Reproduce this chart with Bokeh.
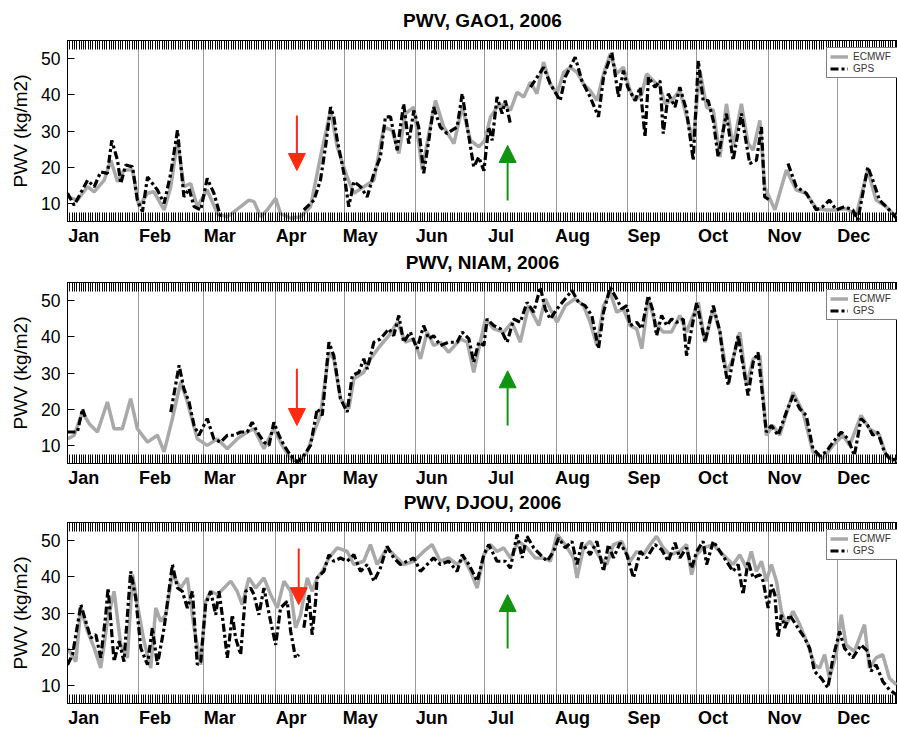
from bokeh.plotting import figure
from bokeh.layouts import column
from bokeh.models import (Range1d, LinearAxis, FixedTicker, CustomJSTickFormatter,
                          AllLabels, Arrow, NormalHead)
from bokeh.embed import file_html
from bokeh.resources import INLINE

nan = float("nan")

month_names = ["Jan", "Feb", "Mar", "Apr", "May", "Jun",
               "Jul", "Aug", "Sep", "Oct", "Nov", "Dec"]
month_starts = [0, 31, 59, 90, 120, 151, 181, 212, 243, 273, 304, 334]
label_days = [d + 7 for d in month_starts]
y_ticks = [10, 20, 30, 40, 50]

# ---------------- GAO1 ----------------
gao_gps_day = [0, 2.9, 8.7, 11.6, 14.4, 17.3, 19.2, 21.7, 23.1, 25.3,
               28.2, 30.3, 32.5, 34.7, 39, 41.9, 44.8, 47.7, 50.5, 52.7,
               54.9, 57.8, 60.6, 63.5, 66.4, 84, 102.5, 106.9, 109.7, 111.9,
               114.1, 115.5, 117, 119.9, 122, 124.2, 127.1, 130, 132.9, 135.7,
               137.9, 140.1, 143, 145.8, 148, 150.2, 152.3, 154.5, 156.7, 158.8,
               161.7, 164.6, 169, 171.2, 173.4, 176.2, 178.4, 180.6, 182.7, 184.2,
               186.3, 188.5, 189.9, 192.1, 196, 200.8, 206.5, 209.4, 213.7, 215.9,
               220.2, 223.1, 226.7, 230.3, 232.5, 236.1, 239, 241.1, 243, 246.2,
               248.4, 250.5, 252, 254.8, 257, 258.4, 260.6, 263.5, 265.6, 268.5,
               271.4, 273.6, 275.7, 277.9, 280.1, 282.2, 285.8, 288.7, 292.3, 295.9,
               298.8, 301, 302.4, 304.6, 308, 312.5, 316.1, 320.4, 324.8, 327.6,
               330.5, 333.4, 337, 340.6, 342.8, 347.1, 349.3, 352.2, 355.1, 357.9,
               359.5]
gao_gps = [12.8, 9.5, 16.4, 14.6, 18.7, 18.3, 27.4, 21.9, 15.5, 20.6,
           20.1, 10.9, 7.7, 17.3, 13.7, 10, 18.3, 30.2, 11.8, 14.1,
           9.1, 8.2, 16.9, 12.8, 6.3, nan, 8.2, 10.9, 16.4, 25.6,
           36.6, 33.9, 27.4, 18.3, 9.1, 16, 14.6, 11.8, 18.3, 22.8,
           33.9, 33.9, 24.7, 37.5, 26.5, 35.7, 31.1, 18.3, 27.4, 36.6,
           31.1, 29.3, 31.1, 40.3, 31.1, 20.1, 22.8, 19, 31.1, 27.4,
           39.4, 34.8, 38.4, 32, nan, 42.1, 47.6, 43, 38.4, 44.9,
           50.4, 43.9, 39.4, 33.9, 44.9, 51.7, 39.4, 46.7, 42.1, 38.4,
           42.1, 28.3, 44.9, 42.1, 43.9, 29.3, 40.3, 36.6, 42.1, 35.7,
           21.9, 49.4, 38.4, 38.4, 32.9, 22.8, 34.8, 21.9, 34.8, 21,
           21.9, 31.1, 11.8, 10.9, nan, 21, 14.6, 12.8, 8.2, 9.1,
           10.9, 8.2, 9.1, 8.2, 5.4, 20.1, 16.4, 10.9, 9.1, 7.2,
           5.9]
gao_ecm_day = [0, 4.3, 8.7, 11.6, 15.9, 18.8, 21.7, 24.5, 28.2, 31,
               34.7, 37.5, 41.9, 44.8, 47.7, 50.5, 53.4, 56.3, 60.6, 65,
               69.3, 75.1, 78.7, 80.9, 83.8, 86.6, 90.3, 92.4, 96.8, 101.1,
               105.4, 109.7, 114.1, 117, 121.3, 124.2, 128.5, 132.9, 137.2, 140.8,
               143.7, 146.6, 150.2, 153.9, 156.7, 159.6, 163.2, 167.6, 171.2, 174.8,
               178.4, 181, 183.5, 186.3, 189.9, 192.1, 195, 197.9, 200.8, 203.6,
               206.5, 209.4, 212.3, 215.2, 218.1, 221, 223.8, 226.7, 229.6, 232.5,
               235.4, 238.2, 241.1, 244, 246.2, 249.1, 251.2, 254.1, 257, 259.2,
               262, 265.6, 268.5, 271.4, 274.3, 277.2, 280.1, 283, 285.8, 288.7,
               292.3, 295.2, 297.4, 300.3, 302.4, 306.8, 311.8, 316.1, 320.4, 324.8,
               329.1, 333.4, 337.7, 342.1, 347.1, 350.7, 355.1, 359.5]
gao_ecm = [11.8, 10.9, 14.6, 13.2, 16.4, 21.9, 16, 19.2, 19.2, 9.1,
           12.8, 13.2, 8.2, 14.6, 27.4, 14.6, 15.5, 9.1, 13.7, 7.2,
           6.3, 9.1, 10.9, 10.5, 6.3, 8.2, 11.4, 7.2, 5.9, 6.3,
           9.1, 22.8, 35.7, 25.6, 17.3, 12.8, 14.6, 16.4, 31.1, 30.2,
           23.8, 34.8, 36.6, 19.2, 29.3, 38.4, 31.1, 26.5, 36.6, 27.4,
           25.6, 27.4, 33.9, 36.6, 37.5, 35.7, 40.7, 39.4, 43.5, 40.3,
           49, 43, 40.3, 46.2, 47.6, 46.2, 43, 41.2, 38.4, 45.8,
           51.3, 45.8, 47.6, 41.2, 38.4, 40.3, 45.8, 43.9, 42.1, 37.5,
           38.4, 41.2, 33.9, 27.4, 46.7, 36.6, 35.7, 22.8, 37.5, 25.6,
           37.5, 26.5, 24.7, 32.9, 14.6, 8.2, 19.2, 13.7, 12.8, 8.6,
           8.2, 8.2, 8.6, 6.8, 19.2, 10.9, 9.1, 6.3]

# ---------------- NIAM ----------------
niam_gps_day = [0, 4.3, 6.5, 7.9, 25, 44.8, 48.4, 50.5, 52.7, 54.9,
                57, 60.6, 63.5, 66.4, 69.3, 72.2, 75.1, 78, 80.1, 82.3,
                85.2, 87.4, 89.5, 91.7, 93.9, 96.8, 99.6, 102.5, 105.4, 108.3,
                110.5, 113.4, 115.5, 118.4, 121.3, 123.5, 126.4, 128.5, 130, 132.9,
                135.7, 139.4, 141.5, 143.7, 145.8, 148.7, 151.6, 154.5, 156.7, 158.8,
                161.7, 165.3, 169, 171.2, 174.1, 176.2, 178.4, 180.6, 182, 184.9,
                187.8, 190.7, 193.5, 196.4, 199.3, 202.2, 205.1, 207.2, 209.4, 212.3,
                215.9, 218.8, 221.7, 224.5, 227.4, 230.3, 232.5, 235.4, 238.2, 240.4,
                242.6, 244, 246.9, 249.1, 251.9, 254.1, 255.5, 257.7, 259.9, 262,
                264.2, 267.1, 268.5, 270.7, 272.9, 275, 276.5, 280.1, 283, 284.4,
                286.6, 288.7, 290.9, 293, 295.2, 297.4, 299.5, 301, 303.1, 305.3,
                308.2, 311.8, 314.7, 317.6, 320.4, 323.3, 326.2, 329.1, 332, 335.6,
                338.5, 341.3, 344.2, 347.1, 349.3, 351.4, 354.3, 357.2, 359.5]
niam_gps = [13.7, 13.7, 20.1, 17.4, nan, 19.2, 32.1, 25.6, 22, 15.5,
            12.8, 17.4, 11.8, 10.9, 12.8, 12.8, 13.7, 13.7, 16.4, 13.7,
            10.9, 10, 16.4, 12.8, 10, 7.2, 5.4, 7.2, 10, 20.1,
            18.3, 38.5, 34.8, 22.9, 19.2, 29.3, 30.2, 33.9, 31.1, 38.5,
            39.4, 42.2, 40.3, 45.9, 38.5, 41.3, 36.7, 43.1, 39.4, 40.3,
            37.6, 38.5, 38.5, 41.3, 39.4, 33, 38.5, 37.6, 44.9, 43.1,
            42.2, 38.5, 44.9, 44, 49.5, 46.8, 53.7, 47.7, 44.9, 47.7,
            50.5, 52.8, 49.5, 48.6, 45.9, 36.7, 46.8, 53.7, 50.5, 47.7,
            48.6, 43.1, 44, 42.2, 51.4, 46.8, 40.3, 45.9, 43.1, 44.9,
            44, 44.9, 34.8, 42.2, 49.5, 43.1, 38.5, 48.6, 41.3, 33.9,
            26.6, 33.9, 40.3, 32.1, 23.8, 33, 35.7, 26.6, 13.7, 15.5,
            12.8, 19.2, 23.8, 20.1, 18.3, 9.1, 7.2, 8.2, 10.9, 13.7,
            11.8, 7.2, 17.4, 15.5, 12.8, 13.7, 8.2, 5.9, 6.3]
niam_ecm_day = [0, 2.9, 6.5, 9.4, 13, 17.3, 20.2, 23.8, 27.4, 30.3,
                34.7, 39, 41.9, 45.5, 49.1, 52, 56.3, 60.6, 65, 69.3,
                73.6, 78, 80.9, 85.2, 89.5, 93.1, 96.8, 100.4, 104, 106.9,
                109.7, 113.4, 115.5, 118.4, 122, 124.2, 128.5, 131.4, 135.7, 139.4,
                143, 146.6, 150.2, 153.1, 156, 158.8, 161.7, 165.3, 170.5, 173.4,
                176.2, 178.4, 181.3, 184.9, 189.2, 192.8, 196.4, 200, 204.4, 207.2,
                212.3, 215.9, 220.2, 223.8, 226.7, 229.6, 232.5, 235.4, 238.2, 241.1,
                244, 246.9, 249.1, 251.9, 254.8, 258.4, 262, 265.6, 268.5, 270.7,
                273.6, 276.5, 280.1, 283, 285.8, 288.7, 291.6, 294.5, 297.4, 300.3,
                303.1, 306, 308.9, 314.7, 319, 323.3, 327.6, 332, 336.3, 339.2,
                344.2, 347.8, 352.2, 355.1, 359.5]
niam_ecm = [11.8, 12.8, 19.2, 16, 13.7, 22, 14.6, 14.6, 22.9, 14.6,
            10.9, 12.8, 8.2, 17.4, 27.5, 22, 11.8, 10, 11.8, 9.1,
            11.8, 13.7, 14.6, 9.1, 14.6, 10, 6.3, 5.4, 8.2, 13.7,
            18.3, 35.7, 33.9, 22.9, 20.1, 28.4, 30.2, 33.9, 37.6, 40.3,
            44, 38.5, 39.4, 33.9, 41.3, 37.6, 38.5, 35.7, 39.4, 38.5,
            30.2, 36.7, 44.9, 42.2, 41.3, 44, 38.5, 48.6, 43.1, 50.5,
            44, 48.6, 50.5, 48.6, 44, 37.6, 48.6, 52.3, 46.8, 47.7,
            43.1, 42.2, 36.7, 50.5, 44, 41.3, 41.3, 45.9, 41.3, 44.9,
            49.5, 38.5, 47.7, 41.3, 30.2, 33.9, 41.3, 26.6, 33.9, 34.8,
            12.8, 15.5, 12.8, 24.7, 19.2, 8.2, 6.3, 10, 12.8, 10,
            18.3, 14.6, 12.8, 7.2, 5.4]

# ---------------- DJOU ----------------
djou_gps_day = [0, 2.2, 5.8, 7.9, 10.1, 12.3, 14.4, 16.6, 17.6, 20.2,
                22.4, 24.5, 27.4, 29.6, 31.8, 34.7, 36.8, 39, 41.9, 45.5,
                47.7, 49.8, 52, 54.2, 56.3, 57.8, 59.9, 62.1, 64.3, 65.7,
                67.1, 69.3, 71.5, 72.9, 75.1, 77.3, 79.4, 80.9, 83, 85.2,
                88.1, 90.3, 92.4, 95.3, 96.8, 98.9, 100.4, 101.5, 102.5, 104.7,
                106.1, 107.6, 108.3, 111.2, 113.4, 115.5, 118.4, 121.3, 124.2, 127.1,
                130, 132.9, 135.7, 138.6, 141.5, 144.4, 147.3, 150.2, 153.1, 156,
                158.8, 161.7, 165.3, 169, 171.2, 174.1, 177.7, 180.6, 182.7, 186.3,
                189.9, 192.1, 195, 197.2, 199.3, 202.2, 205.1, 208, 210.8, 213,
                215.9, 218.8, 221, 223.1, 226.7, 229.6, 232.5, 234.6, 236.8, 239.7,
                242.6, 245.5, 248.4, 251.2, 254.8, 257.7, 260.6, 263.5, 265.6, 268.5,
                270.7, 272.9, 275.7, 277.2, 280.1, 283, 285.8, 288.7, 290.9, 293,
                295.2, 297.4, 300.3, 301.7, 303.9, 305.3, 306.8, 308.2, 309.6, 311.1,
                313.2, 316.8, 319.7, 321.9, 324, 326.9, 329.8, 332, 334.9, 337,
                340.6, 344.2, 347.1, 348.5, 350.7, 353.6, 356.5, 359.5]
djou_gps = [15.7, 18.5, 32.3, 27.7, 23.1, 24, 17.6, 29.5, 36.9, 16.6,
            22.2, 16.6, 41.5, 34.1, 20.3, 15.7, 25.9, 15.7, 25.9, 43.4,
            36.9, 36, 31.4, 36, 15.7, 16.6, 32.3, 36, 29.5, 36,
            29.5, 17.6, 29.5, 23.1, 18.5, 36, 36.9, 35.1, 29.5, 36.9,
            27.7, 21.2, 31.4, 33.2, 24.9, 17.6, 18.5, nan, 25.9, 35.1,
            24, 33.2, 39.7, 41.5, 46.1, 44.3, 45.2, 44.3, 46.1, 41.5,
            43.4, 38.8, 42.4, 48.4, 45.2, 43.4, 44.3, 45.2, 41.5, 43.4,
            45.2, 43.4, 44.3, 41.5, 46.1, 43.4, 38.8, 46.1, 48.9, 44.3,
            44.3, 42.4, 51.7, 45.2, 51.2, 48, 46.1, 44.3, 47, 50.7,
            48, 49.8, 43.4, 49.4, 46.1, 49.8, 41.5, 48.9, 45.2, 49.4,
            46.1, 39.7, 47, 45.2, 48.9, 47.5, 44.3, 49.4, 45.2, 48,
            42.4, 47, 49.8, 43.4, 49.8, 47, 44.3, 41.5, 43.4, 35.1,
            44.3, 39.7, 40.6, 38.8, 31.4, 37.8, 35.1, 23.1, 29.5, 25.9,
            29.5, 25.9, 23.1, 20.3, 13.9, 12, 9.3, 17.6, 24.9, 20.3,
            17.6, 21.2, 19.4, 13.9, 15.7, 11.1, 8.8, 7.4]
djou_ecm_day = [0, 3.6, 5.8, 8.7, 11.6, 14.4, 17.3, 20.2, 23.1, 26,
                28.2, 30.3, 33.2, 36.1, 38.3, 40.4, 42.6, 45.5, 49.1, 52,
                54.9, 57.8, 59.9, 62.1, 65, 67.9, 70.8, 73.6, 75.8, 78.7,
                81.6, 85.2, 88.1, 91, 93.9, 96.8, 98.9, 101.1, 104, 106.1,
                108.3, 110.5, 113.4, 117, 121.3, 124.2, 128.5, 131.4, 134.3, 138.6,
                143, 145.8, 150.2, 154.5, 158.1, 161.7, 165.3, 169, 171.9, 174.8,
                177.7, 180.6, 183.5, 186.3, 189.2, 192.1, 195.7, 199.3, 202.9, 206.5,
                209.4, 212.3, 215.9, 219.5, 221, 223.8, 226.7, 231, 233.9, 236.8,
                240.4, 244, 246.9, 249.8, 252.7, 255.5, 258.4, 261.3, 265.6, 268.5,
                270.7, 272.9, 275.7, 280.1, 283, 285.8, 288.7, 291.6, 294.5, 296.6,
                298.8, 301, 303.1, 305.3, 307.5, 309.6, 311.8, 314.7, 317.6, 321.2,
                324, 326.2, 328.4, 330.5, 333.4, 335.6, 337.7, 341.3, 345.7, 347.8,
                350.7, 353.6, 356.5, 359.5]
djou_ecm = [20.3, 16.6, 31.4, 24.9, 20.3, 14.8, 27.7, 36, 21.2, 17.6,
            40.6, 32.3, 22.2, 14.8, 31.4, 27.7, 29.5, 40.6, 36.9, 39.7,
            25.9, 15.7, 33.2, 36, 35.1, 36.9, 38.8, 36, 32.3, 39.7,
            36.9, 39.7, 35.1, 31.4, 38.8, 36, 25.9, 29.5, 39.7, 36,
            39.7, 41.5, 45.2, 48, 47, 43.4, 44.3, 48.9, 43.4, 48,
            45.2, 43.4, 44.3, 47, 48.9, 44.3, 45.2, 43.4, 45.2, 41.5,
            36.9, 46.1, 48.9, 47, 48, 45.2, 49.8, 48, 45.2, 45.2,
            44.3, 51.7, 48.9, 45.2, 39.7, 48, 49.8, 45.2, 43.4, 48.9,
            49.8, 44.3, 47, 46.1, 48.9, 51.2, 48, 46.1, 47, 48.9,
            40.6, 46.1, 48, 48.9, 47, 45.2, 43.4, 46.1, 42.4, 47,
            41.5, 44.3, 38.8, 43.4, 38.8, 30.5, 26.8, 30.5, 26.8, 21.2,
            15.7, 14.8, 18.5, 12, 18.5, 29.5, 21.2, 19.4, 26.8, 14.8,
            17.6, 18.5, 12, 10.2]

# arrows: (day, value at tail, value at tip)
red_arrows = [(99.5, 34.3, 19.1), (99.5, 31.2, 15.5), (100.3, 47.8, 32.3)]
green_arrows = [(190.9, 10.8, 26.0), (190.9, 15.5, 30.6), (190.9, 20.2, 35.1)]

titles = ["PWV, GAO1, 2006", "PWV, NIAM, 2006", "PWV, DJOU, 2006"]
series = [(gao_ecm_day, gao_ecm, gao_gps_day, gao_gps),
          (niam_ecm_day, niam_ecm, niam_gps_day, niam_gps),
          (djou_ecm_day, djou_ecm, djou_gps_day, djou_gps)]

FONT = "Liberation Sans"
day_ticks = list(range(0, 360))
FRAME_W = 830
FRAME_H = 181
TOP_B = 50
# per panel: (bottom border, x label standoff, css top margin)
panel_layout = [(30, 4, -10), (30, 4, -19), (28, 4, -21)]


def make_panel(title, e_day, e_val, g_day, g_val, red, green, lay):
    assert len(e_day) == len(e_val), title
    assert len(g_day) == len(g_val), title
    bb, so, mt = lay
    p = figure(frame_width=FRAME_W, frame_height=FRAME_H,
               x_range=Range1d(0, 360), y_range=Range1d(5, 55),
               output_backend="svg", toolbar_location=None,
               min_border_left=67, min_border_right=0, min_border_top=TOP_B,
               min_border_bottom=bb, margin=(mt, 0, 0, 0))
    p.outline_line_color = "black"
    p.outline_line_width = 1
    p.background_fill_color = "white"
    p.border_fill_color = None

    p.title.text = title
    p.title.align = "center"
    p.title.text_font = FONT
    p.title.text_font_size = "19px"
    p.title.text_font_style = "bold"
    p.title.text_color = "black"
    p.title.standoff = 19

    xa = p.xaxis[0]
    xa.ticker = FixedTicker(ticks=day_ticks)
    xa.formatter = CustomJSTickFormatter(
        args=dict(pos=label_days, names=month_names),
        code="const i = pos.indexOf(Math.round(tick)); return (i >= 0 && Math.abs(tick - pos[i]) < 0.01) ? names[i] : '';")
    xa.major_label_policy = AllLabels()
    xa.major_tick_in = 9
    xa.major_tick_out = 0
    xa.minor_tick_in = 0
    xa.minor_tick_out = 0
    xa.major_tick_line_color = "black"
    xa.axis_line_color = "black"
    xa.major_label_standoff = so
    xa.major_label_text_font = FONT
    xa.major_label_text_font_size = "18px"
    xa.major_label_text_font_style = "bold"
    xa.major_label_text_color = "black"

    top = LinearAxis(ticker=FixedTicker(ticks=day_ticks),
                     formatter=CustomJSTickFormatter(code="return '';"),
                     major_tick_in=9, major_tick_out=0, minor_tick_in=0, minor_tick_out=0,
                     major_label_text_font_size="0px", major_label_standoff=0,
                     axis_line_color="black", major_tick_line_color="black")
    p.add_layout(top, "above")

    ya = p.yaxis[0]
    ya.ticker = FixedTicker(ticks=y_ticks)
    ya.major_tick_in = 7
    ya.major_tick_out = 0
    ya.minor_tick_in = 0
    ya.minor_tick_out = 0
    ya.axis_line_color = "black"
    ya.major_tick_line_color = "black"
    ya.major_label_standoff = 7
    ya.major_label_text_font = FONT
    ya.major_label_text_font_size = "17.5px"
    ya.major_label_text_color = "black"
    ya.axis_label = "PWV (kg/m2)"
    ya.axis_label_text_font = FONT
    ya.axis_label_text_font_size = "19px"
    ya.axis_label_text_font_style = "normal"
    ya.axis_label_text_color = "black"
    ya.axis_label_standoff = 7

    p.xgrid.ticker = FixedTicker(ticks=month_starts)
    p.xgrid.grid_line_color = "#9a9a9a"
    p.xgrid.grid_line_width = 1
    p.ygrid.visible = False

    p.line(e_day, e_val, line_color="#a9a9a9", line_width=3.5, legend_label="ECMWF")
    p.line(g_day, g_val, line_color="black", line_width=3.2, line_dash="8 3 3 3",
           legend_label="GPS")

    for (d, y0, y1), c in ((red, "#ff2a10"), (green, "#109410")):
        p.add_layout(Arrow(end=NormalHead(size=17, fill_color=c, line_color=c, line_width=1),
                           x_start=d, y_start=y0, x_end=d, y_end=y1,
                           line_color=c, line_width=2))

    lg = p.legend[0]
    lg.location = (759, 143)
    lg.label_text_font = FONT
    lg.label_text_font_size = "10px"
    lg.label_text_color = "#333333"
    lg.border_line_color = "black"
    lg.border_line_width = 1
    lg.background_fill_alpha = 1
    lg.glyph_width = 18
    lg.glyph_height = 11
    lg.label_height = 11
    lg.label_width = 48
    lg.spacing = 1
    lg.padding = 3
    lg.margin = 0
    lg.label_standoff = 5
    return p


panels = []
for i in range(3):
    e_day, e_val, g_day, g_val = series[i]
    panels.append(make_panel(titles[i], e_day, e_val, g_day, g_val,
                             red_arrows[i], green_arrows[i], panel_layout[i]))

layout = column(*panels, spacing=0)
open("out.html", "w").write(file_html(layout, INLINE))
